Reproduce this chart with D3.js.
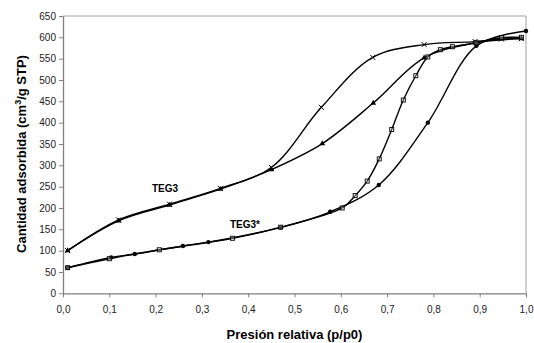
<!DOCTYPE html>
<html>
<head>
<meta charset="utf-8">
<script src="https://cdn.jsdelivr.net/npm/d3@7"></script>
<style>
  body { margin: 0; background: #fff; }
  text { font-family: "Liberation Sans", Arial, sans-serif; }
</style>
</head>
<body>
<svg id="chart" width="534" height="343"></svg>
<script>
// TEG3 - adsorcion (triangulos) y desorcion (cruces)
var teg3_ads_p = [0.01, 0.12, 0.23, 0.34, 0.45, 0.56, 0.67, 0.78, 0.89, 0.99];
var teg3_ads_v = [100, 170, 207, 244, 290, 351, 446, 552, 587, 597];
var teg3_des_p = [0.99, 0.947, 0.89, 0.78, 0.669, 0.558, 0.45, 0.34, 0.23, 0.12, 0.01];
var teg3_des_v = [597, 596, 590, 583, 553, 436, 295, 246, 209, 172, 100];

// TEG3* - adsorcion (circulos) y desorcion (cuadrados)
var teg3s_ads_p = [0.01, 0.104, 0.155, 0.259, 0.314, 0.47, 0.577, 0.682, 0.788, 0.893, 1.0];
var teg3s_ads_v = [60, 84, 92, 111, 120, 154, 191, 254, 400, 580, 615];
var teg3s_des_p = [0.99, 0.947, 0.892, 0.841, 0.815, 0.788, 0.762, 0.735, 0.71, 0.683, 0.657, 0.631, 0.603, 0.47, 0.366, 0.208, 0.10, 0.01];
var teg3s_des_v = [600, 599, 587, 578, 571, 554, 510, 453, 384, 315, 263, 229, 200, 155, 129, 102, 81, 60];

var x_ticks = [0, 0.1, 0.2, 0.3, 0.4, 0.5, 0.6, 0.7, 0.8, 0.9, 1.0];
var y_ticks = [0, 50, 100, 150, 200, 250, 300, 350, 400, 450, 500, 550, 600, 650];

var svg = d3.select('#chart');
var m_left = 63, m_right = 526, m_top = 16, m_bottom = 293.3;

var x = d3.scaleLinear().domain([0, 1]).range([m_left, m_right]);
var y = d3.scaleLinear().domain([0, 650]).range([m_bottom, m_top]);

// marco superior y derecho
svg.append('path')
  .attr('d', 'M' + m_left + ',' + m_top + 'H' + m_right + 'V' + m_bottom)
  .attr('fill', 'none')
  .attr('stroke', '#a0a0a0')
  .attr('stroke-width', 1);

var xAxis = svg.append('g')
  .attr('transform', 'translate(0,' + m_bottom + ')')
  .call(d3.axisBottom(x).tickValues(x_ticks).tickSize(4).tickSizeOuter(0)
    .tickFormat(function(d) { return d3.format('.1f')(d).replace('.', ','); }));

var yAxis = svg.append('g')
  .attr('transform', 'translate(' + m_left + ',0)')
  .call(d3.axisLeft(y).tickValues(y_ticks).tickSize(4).tickSizeOuter(0));

[xAxis, yAxis].forEach(function(a) {
  a.select('.domain').attr('stroke', '#808080').attr('stroke-width', 1.3);
  a.selectAll('.tick line').attr('stroke', '#808080');
  a.selectAll('.tick text').attr('fill', '#222').style('font-size', '10px')
    .style('font-family', '"Liberation Sans", Arial, sans-serif');
});
xAxis.selectAll('.tick text').attr('dy', '1.25em');
yAxis.selectAll('.tick text').attr('x', -7);

// titulos
svg.append('text')
  .attr('x', (m_left + m_right) / 2)
  .attr('y', 339)
  .attr('text-anchor', 'middle')
  .style('font-size', '13px')
  .style('font-weight', 'bold')
  .text('Presión relativa (p/p0)');

var yt = svg.append('text')
  .attr('transform', 'translate(26,154) rotate(-90)')
  .attr('text-anchor', 'middle')
  .style('font-size', '13px')
  .style('font-weight', 'bold');
yt.append('tspan').text('Cantidad adsorbida (cm');
yt.append('tspan').attr('dy', -5).style('font-size', '9px').text('3');
yt.append('tspan').attr('dy', 5).text('/g STP)');

// curvas
var line = d3.line()
  .x(function(d) { return x(d[0]); })
  .y(function(d) { return y(d[1]); })
  .curve(d3.curveCatmullRom.alpha(0.5));

function pairs(ps, vs) { return ps.map(function(p, i) { return [p, vs[i]]; }); }

var series = [
  { data: pairs(teg3_ads_p, teg3_ads_v), marker: 'triangle' },
  { data: pairs(teg3_des_p, teg3_des_v), marker: 'cross' },
  { data: pairs(teg3s_ads_p, teg3s_ads_v), marker: 'circle' },
  { data: pairs(teg3s_des_p, teg3s_des_v), marker: 'square' }
];

series.forEach(function(s) {
  svg.append('path')
    .datum(s.data)
    .attr('fill', 'none')
    .attr('stroke', '#000')
    .attr('stroke-width', 1.4)
    .attr('d', line);
});

series.forEach(function(s) {
  var g = svg.append('g');
  var pts = g.selectAll('.m').data(s.data).enter();
  if (s.marker == 'triangle') {
    pts.append('path')
      .attr('d', d3.symbol().type(d3.symbolTriangle).size(14))
      .attr('transform', function(d) { return 'translate(' + x(d[0]) + ',' + y(d[1]) + ')'; })
      .attr('fill', '#000');
  } else if (s.marker == 'cross') {
    pts.append('path')
      .attr('d', 'M-2.5,-2.5L2.5,2.5M-2.5,2.5L2.5,-2.5')
      .attr('transform', function(d) { return 'translate(' + x(d[0]) + ',' + y(d[1]) + ')'; })
      .attr('stroke', '#000')
      .attr('stroke-width', 1);
  } else if (s.marker == 'circle') {
    pts.append('circle')
      .attr('cx', function(d) { return x(d[0]); })
      .attr('cy', function(d) { return y(d[1]); })
      .attr('r', 2.2)
      .attr('fill', '#000');
  } else {
    pts.append('rect')
      .attr('x', function(d) { return x(d[0]) - 2; })
      .attr('y', function(d) { return y(d[1]) - 2; })
      .attr('width', 4)
      .attr('height', 4)
      .attr('fill', '#fff')
      .attr('fill-opacity', 0.3)
      .attr('stroke', '#000')
      .attr('stroke-width', 0.9);
  }
});

// etiquetas de las muestras
svg.append('text')
  .attr('x', 152).attr('y', 192)
  .style('font-size', '10px').style('font-weight', 'bold')
  .text('TEG3');
svg.append('text')
  .attr('x', 230).attr('y', 228)
  .style('font-size', '10px').style('font-weight', 'bold')
  .text('TEG3*');
</script>
</body>
</html>
